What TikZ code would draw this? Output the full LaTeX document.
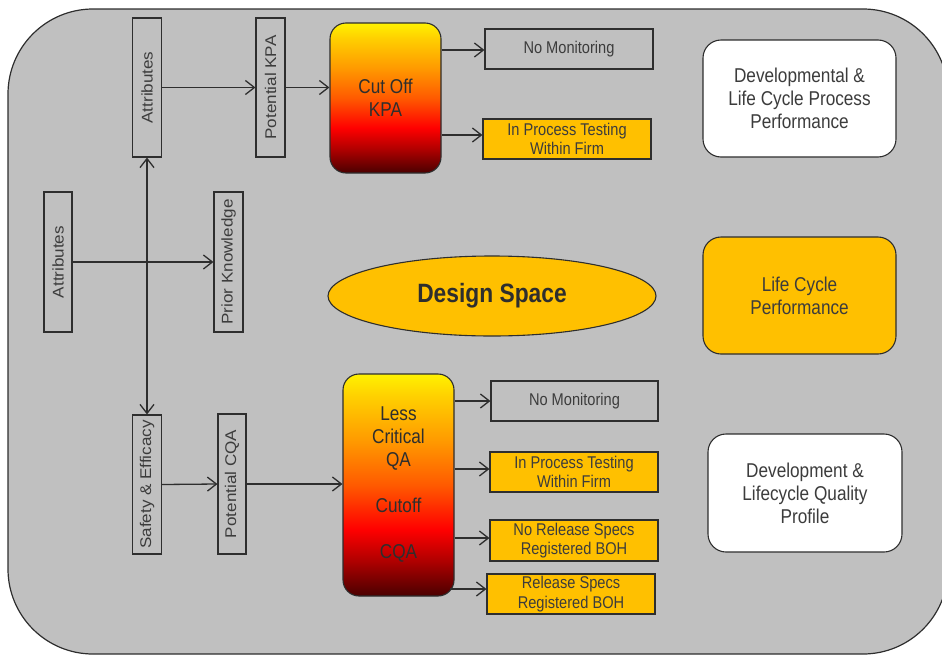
\documentclass[tikz,border=0pt]{standalone}
\usepackage{fontspec}
\usepackage{graphicx}
\setmainfont[FakeStretch=0.86]{Liberation Sans}
\newfontfamily\rotfont[FakeStretch=1.1]{Liberation Sans}
\usetikzlibrary{arrows.meta,shapes.geometric}

\definecolor{panel}{HTML}{C0C0C0}
\definecolor{ink}{HTML}{2E2E2E}
\definecolor{txt}{HTML}{3C3C3C}
\definecolor{amber}{HTML}{FFC000}
\definecolor{heatA}{HTML}{4A0000}
\definecolor{heatB}{HTML}{B00000}
\definecolor{heatC}{HTML}{FF0000}
\definecolor{heatD}{HTML}{FF5A00}
\definecolor{heatE}{HTML}{FF9A00}
\definecolor{heatF}{HTML}{FFD000}
\definecolor{heatG}{HTML}{FFF200}

% dark red at the bottom rising to yellow at the top
\pgfdeclareverticalshading{heat}{100bp}{%
  color(0bp)=(heatA); color(25bp)=(heatA); color(33bp)=(heatB);
  color(40bp)=(heatC); color(50bp)=(heatD); color(60bp)=(heatE);
  color(70bp)=(heatF); color(75bp)=(heatG); color(100bp)=(heatG)}

\newcommand{\vlabel}[1]{\rotatebox{90}{\rotfont\fontsize{15.5}{18}\selectfont #1}}

\begin{document}
\begin{tikzpicture}[x=1pt,y=-1pt,
  flow/.style={draw=ink, line width=1.3pt,
    -{Straight Barb[length=9pt,width=14pt]}},
  vbox/.style={draw=ink, line width=1.1pt, fill=panel, inner sep=0pt, text=txt},
  sbox/.style={draw=ink, line width=1.1pt, inner sep=0pt, text=txt,
    align=center, font=\fontsize{17}{19.5}\selectfont,
    minimum width=168pt, minimum height=40pt},
  bigbox/.style={draw=ink, line width=1.1pt, rounded corners=18pt, inner sep=0pt,
    align=center, text=txt, font=\fontsize{20}{23}\selectfont,
    minimum width=193pt, minimum height=117pt},
  heatbox/.style={draw=ink, line width=1.1pt, rounded corners=16pt, shading=heat,
    inner sep=0pt, align=center, text=ink, font=\fontsize{20}{23}\selectfont,
    minimum width=111pt}
]
\useasboundingbox (0,0) rectangle (942,656);
\clip (0,0) rectangle (942,656);

% background panel
\draw[draw=ink, fill=panel, line width=1.2pt, rounded corners=85pt]
  (8,9) rectangle (948,654);

% attribute columns
\node[vbox, minimum width=29pt, minimum height=139pt] (attrT) at (147,87.5) {\vlabel{Attributes}};
\node[vbox, minimum width=29pt, minimum height=139pt] (potKPA) at (270.5,87.5) {\vlabel{Potential KPA}};
\node[vbox, minimum width=28pt, minimum height=140pt] (attrL) at (58,262) {\vlabel{Attributes}};
\node[vbox, minimum width=29pt, minimum height=140pt] (prior) at (228.5,262) {\vlabel{Prior Knowledge}};
\node[vbox, minimum width=29pt, minimum height=139pt] (safety) at (147,484.5) {\vlabel{Safety \& Efficacy}};
\node[vbox, minimum width=28pt, minimum height=140pt] (potCQA) at (232,484) {\vlabel{Potential CQA}};

% cut-off boxes
\node[heatbox, minimum height=150pt] (cutoff) at (385.5,98) {Cut Off\\KPA};
\node[heatbox, minimum height=222pt] (lessQA) at (398.5,485)
  {Less\\Critical\\QA\\[23pt]Cutoff\\[23pt]CQA};

% design space
\node[ellipse, draw=ink, line width=1.1pt, fill=amber, inner sep=0pt,
  minimum width=328pt, minimum height=80pt, text=ink,
  font=\bfseries\fontsize{26.5}{30}\selectfont] (design) at (492,296) {Design Space};

% outcome boxes, upper branch
\node[sbox, fill=panel] (nm1) at (569,49) {No Monitoring};
\node[sbox, fill=amber] (ipt1) at (567,139) {In Process Testing\\Within Firm};

% outcome boxes, lower branch
\node[sbox, fill=panel, minimum width=167pt] (nm2) at (574.5,401) {No Monitoring};
\node[sbox, fill=amber] (ipt2) at (574,472) {In Process Testing\\Within Firm};
\node[sbox, fill=amber, minimum height=41pt] (nrs) at (574,540.5) {No Release Specs\\Registered BOH};
\node[sbox, fill=amber] (rs) at (571,594) {Release Specs\\Registered BOH};

% summary boxes
\node[bigbox, fill=white] (dev1) at (799.5,98.5) {Developmental \&\\Life Cycle Process\\Performance};
\node[bigbox, fill=amber] (lcp) at (799.5,295.5) {Life Cycle\\Performance};
\node[bigbox, fill=white, minimum width=194pt, minimum height=118pt] (dev2) at (805,493)
  {Development \&\\Lifecycle Quality\\Profile};

% connectors
\draw[flow] (attrT.east) -- (potKPA.west);
\draw[flow] (potKPA.east) -- (potKPA.east -| cutoff.west);
\draw[flow] (attrL.east) -- (prior.west);
\coordinate (hub) at (attrT.south |- attrL.east);
\draw[flow] (hub) -- (attrT.south);
\draw[flow] (hub) -- (safety.north);
\draw[flow] (safety.east) -- (potCQA.west);
\draw[flow] (potCQA.east) -- (potCQA.east -| lessQA.west);

\coordinate (kA) at (0,50);
\coordinate (kB) at (0,135);
\draw[flow] (cutoff.east |- kA) -- (nm1.west |- kA);
\draw[flow] (cutoff.east |- kB) -- (ipt1.west |- kB);

\coordinate (qA) at (0,401);
\coordinate (qB) at (0,469);
\coordinate (qC) at (0,538);
\coordinate (qD) at (450,589);
\draw[flow] (lessQA.east |- qA) -- (nm2.west |- qA);
\draw[flow] (lessQA.east |- qB) -- (ipt2.west |- qB);
\draw[flow] (lessQA.east |- qC) -- (nrs.west |- qC);
\draw[flow] (qD) -- (rs.west |- qD);
\end{tikzpicture}
\end{document}
